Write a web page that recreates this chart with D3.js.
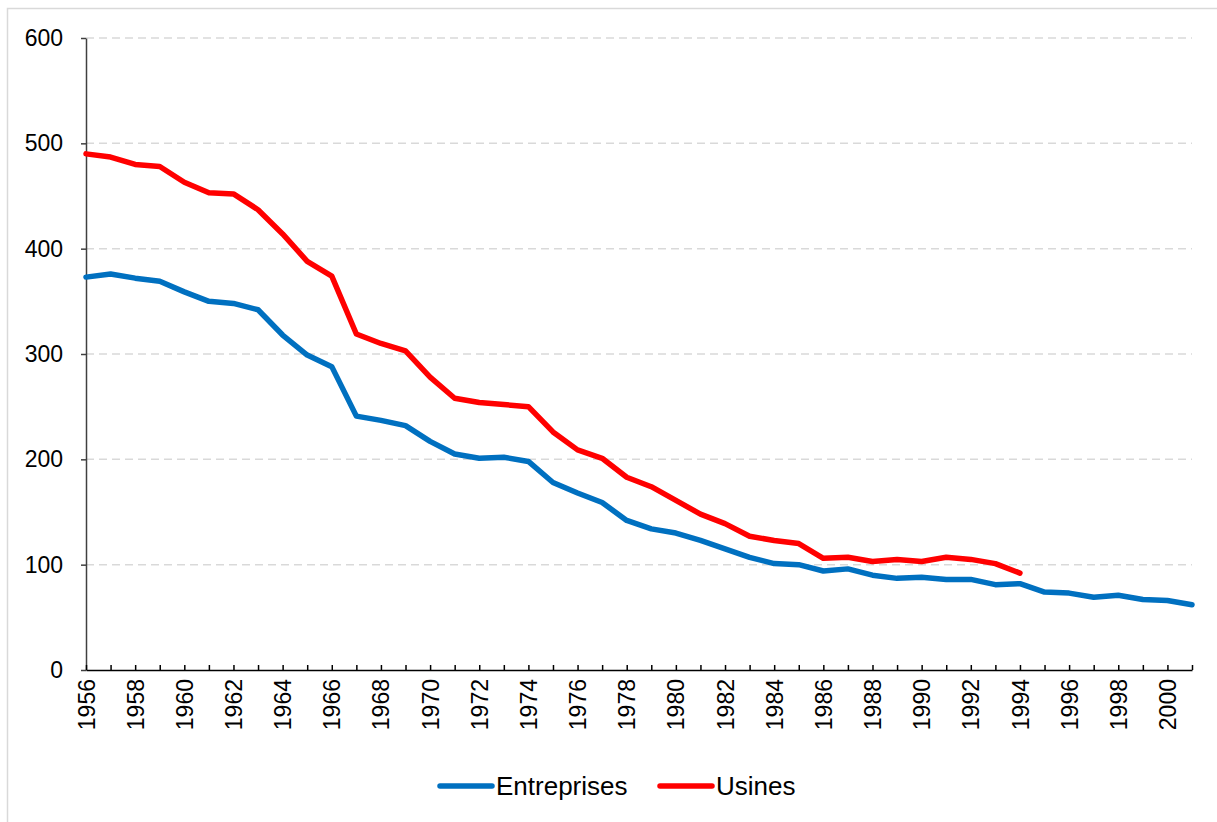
<!DOCTYPE html>
<html>
<head>
<meta charset="utf-8">
<script src="https://cdn.jsdelivr.net/npm/d3@7"></script>
<style>
  body { margin: 0; background: #fff; }
  svg text { font-family: "Liberation Sans", Arial, sans-serif; fill: #000; }
</style>
</head>
<body>
<div id="chart"></div>
<script>
const years = d3.range(1956, 2002);

const entreprises = [373, 376, 372, 369, 359, 350, 348, 342, 318, 299,
                     288, 241, 237, 232, 217, 205, 201, 202, 198, 178,
                     168, 159, 142, 134, 130, 123, 115, 107, 101, 100,
                     94, 96, 90, 87, 88, 86, 86, 81, 82, 74,
                     73, 69, 71, 67, 66, 62];

const usines = [490, 487, 480, 478, 463, 453, 452, 437, 414, 388,
                374, 319, 310, 303, 278, 258, 254, 252, 250, 226,
                209, 201, 183, 174, 161, 148, 139, 127, 123, 120,
                106, 107, 103, 105, 103, 107, 105, 101, 92];

const yTicks = [0, 100, 200, 300, 400, 500, 600];
const seriesNames = ['Entreprises', 'Usines'];
const seriesColors = ['#0070C0', '#FF0000'];

const W = 1217, H = 822;
const mLeft = 86, mRight = 1192, mTop = 38, mBottom = 670;

const svg = d3.select('#chart')
  .append('svg')
  .attr('width', W)
  .attr('height', H);

svg.append('rect')
  .attr('x', 7.5).attr('y', 8.5)
  .attr('width', W).attr('height', H)
  .attr('fill', 'none')
  .attr('stroke', '#d9d9d9')
  .attr('stroke-width', 1.5);

const xScale = d3.scaleLinear().domain([1956, 2001]).range([mLeft, mRight]);
const yScale = d3.scaleLinear().domain([0, 600]).range([mBottom, mTop]);

// gridlines
svg.append('g')
  .selectAll('line')
  .data(yTicks.filter(d => d > 0))
  .enter()
  .append('line')
  .attr('x1', mLeft)
  .attr('x2', mRight)
  .attr('y1', d => yScale(d))
  .attr('y2', d => yScale(d))
  .attr('stroke', '#d9d9d9')
  .attr('stroke-width', 1.5)
  .attr('stroke-dasharray', '8,5');

// y axis
const axisY = d3.axisLeft(yScale)
  .tickValues(yTicks)
  .tickSize(5)
  .tickSizeOuter(0)
  .tickPadding(18);

const gy = svg.append('g')
  .attr('transform', `translate(${mLeft}, 0)`)
  .call(axisY);
gy.select('.domain').attr('stroke', '#404040').attr('stroke-width', 1.5);
gy.selectAll('.tick line').attr('stroke', '#404040').attr('stroke-width', 1.5);
gy.selectAll('text').style('font-size', '23px');

// x axis, ticks every year pointing up, labels every 2 years
const axisX = d3.axisBottom(xScale)
  .tickValues(years)
  .tickSize(-5)
  .tickSizeOuter(0)
  .tickFormat(d => (d % 2 === 0 ? d : ''));

const gx = svg.append('g')
  .attr('transform', `translate(0, ${mBottom})`)
  .call(axisX);
gx.select('.domain').attr('stroke', '#000').attr('stroke-width', 1.5);
gx.selectAll('.tick line').attr('stroke', '#000').attr('stroke-width', 1.5);
gx.selectAll('text')
  .style('font-size', '23px')
  .attr('text-anchor', 'end')
  .attr('transform', 'rotate(-90)')
  .attr('x', -9)
  .attr('y', 0)
  .attr('dy', '0.35em');

// lines
const line = d3.line()
  .x((d, i) => xScale(years[i]))
  .y(d => yScale(d));

[entreprises, usines].forEach((values, k) => {
  svg.append('path')
    .datum(values)
    .attr('fill', 'none')
    .attr('stroke', seriesColors[k])
    .attr('stroke-width', 5.5)
    .attr('stroke-linejoin', 'round')
    .attr('stroke-linecap', 'round')
    .attr('d', line);
});

// legend
const legendX = [440, 660];
const legend = svg.append('g').attr('transform', 'translate(0, 786)');
seriesNames.forEach((name, k) => {
  legend.append('line')
    .attr('x1', legendX[k]).attr('x2', legendX[k] + 52)
    .attr('y1', 0).attr('y2', 0)
    .attr('stroke', seriesColors[k])
    .attr('stroke-width', 5.5)
    .attr('stroke-linecap', 'round');
  legend.append('text')
    .attr('x', legendX[k] + 56)
    .attr('y', 0)
    .attr('dy', '0.35em')
    .style('font-size', '26px')
    .text(name);
});
</script>
</body>
</html>
